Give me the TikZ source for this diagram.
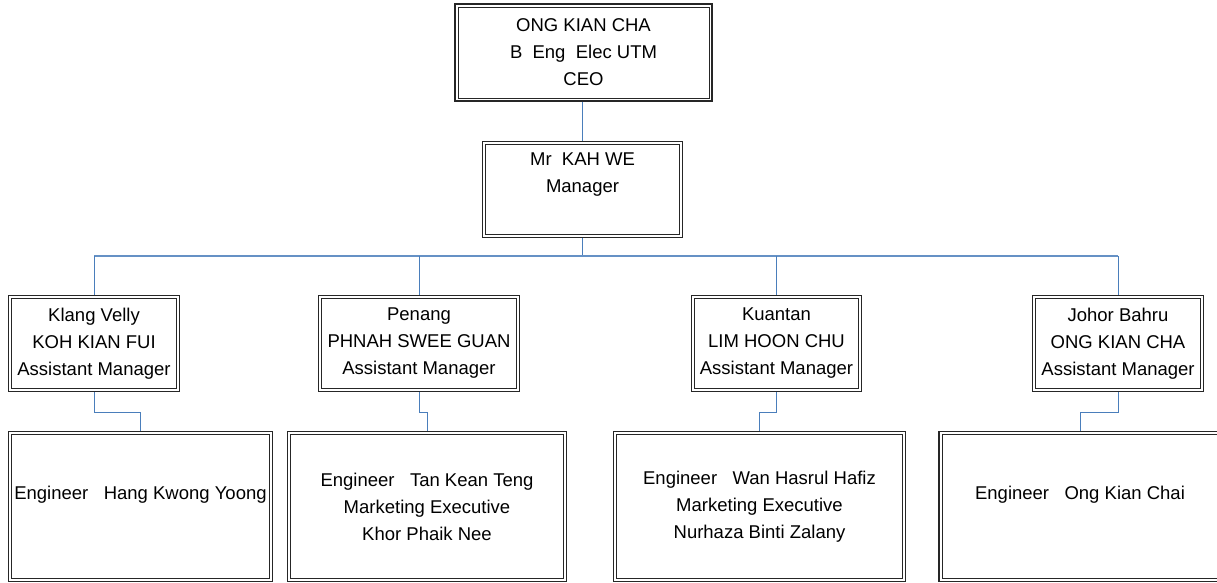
\documentclass[tikz,border=0pt]{standalone}
\usepackage{fontspec}
\setmainfont{Liberation Sans}
\definecolor{connblue}{HTML}{4A7EBB}
\begin{document}
\begin{tikzpicture}[x=1pt,y=-1pt,
  orgbox/.style={draw=black!85, line width=1.1pt,
    path picture={\draw[black!85, line width=0.8pt]
      ([shift={(3pt,-3pt)}]path picture bounding box.north west) rectangle
      ([shift={(-3pt,3pt)}]path picture bounding box.south east);},
    inner sep=0pt, align=center, font=\fontsize{18.5}{27}\selectfont,
    minimum width=#1},
  conn/.style={draw=connblue, line width=0.9pt},
  busline/.style={draw=connblue!85, line width=1.8pt}]
\useasboundingbox (0,0) rectangle (1217,583);
% top
\node[orgbox=257pt, minimum height=97pt] (ceo) at (583.5,52.5)
  {ONG KIAN CHA\\B\ \ Eng\ \ Elec UTM\\CEO};
\node[orgbox=200pt, minimum height=96pt] (mgr) at (582.5,189.5) {};
\node[font=\fontsize{18.5}{27}\selectfont, align=center, inner sep=0pt] (mgrtxt) at (582.5,175)
  {Mr\ \ KAH WE\\Manager};
% assistants
\node[orgbox=171pt, minimum height=96pt] (a1) at (94,343.5)
  {Klang Velly\\KOH KIAN FUI\\Assistant Manager};
\node[orgbox=201pt, minimum height=96pt] (a2) at (419,343.5)
  {Penang\\PHNAH SWEE GUAN\\Assistant Manager};
\node[orgbox=170pt, minimum height=96pt] (a3) at (776.5,343.5)
  {Kuantan\\LIM HOON CHU\\Assistant Manager};
\node[orgbox=171pt, minimum height=96pt] (a4) at (1118,343.5)
  {Johor Bahru\\ONG KIAN CHA\\Assistant Manager};
% lower
\node[orgbox=264pt, minimum height=150pt] (l1) at (140.5,506.5)
  {Engineer\ \ \ Hang Kwong Yoong\\\mbox{}};
\node[orgbox=279pt, minimum height=150pt] (l2) at (427,506.5)
  {Engineer\ \ \ Tan Kean Teng\\Marketing Executive\hspace{12pt}\\Khor Phaik Nee};
\node[orgbox=292pt, minimum height=150pt] (l3) at (759.5,506.5)
  {Engineer\ \ \ Wan Hasrul Hafiz\\Marketing Executive\hspace{12pt}\\Nurhaza Binti Zalany};
\node[orgbox=282pt, minimum height=150pt] (l4) at (1080,506.5)
  {Engineer\ \ \ Ong Kian Chai\\\mbox{}};
% connectors
\draw[conn] (ceo.south -| mgr.north) -- (mgr.north);
\coordinate (bus) at (582.5,256);
\draw[conn] (mgr.south) -- (bus);
\draw[busline] (a1.north |- bus) -- (a4.north |- bus);
\draw[conn] (a1.north |- bus) -- (a1.north);
\draw[conn] (a2.north |- bus) -- (a2.north);
\draw[conn] (a3.north |- bus) -- (a3.north);
\draw[conn] (a4.north |- bus) -- (a4.north);
\draw[conn] (a1.south) -- ++(0,20) -| (l1.north);
\draw[conn] (a2.south) -- ++(0,20) -| (l2.north);
\draw[conn] (a3.south) -- ++(0,20) -| (l3.north);
\draw[conn] (a4.south) -- ++(0,20) -| (l4.north);
\end{tikzpicture}
\end{document}
